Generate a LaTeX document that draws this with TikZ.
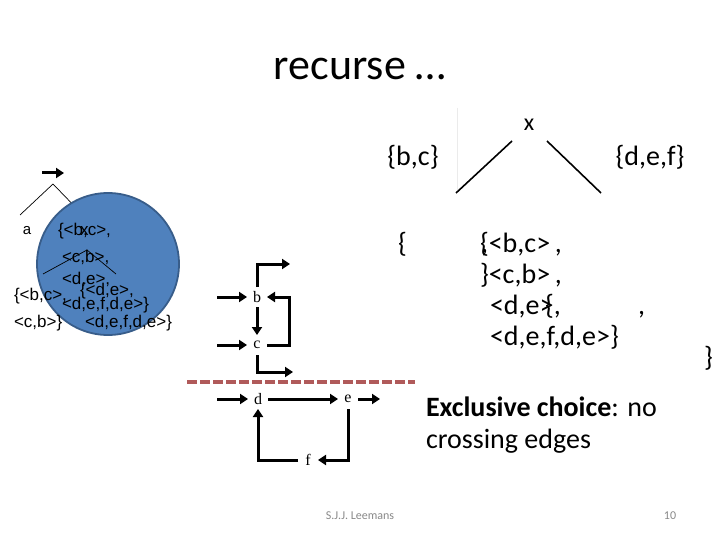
\documentclass[tikz,border=0pt]{standalone}
\usepackage{fontspec}
\setmainfont{Carlito}
\newfontfamily\arialf{Liberation Sans}
\newfontfamily\timesf{Liberation Serif}
\usetikzlibrary{arrows.meta}
\definecolor{circfill}{HTML}{4F81BD}
\definecolor{circline}{HTML}{385D8A}
\definecolor{dashred}{HTML}{B05A5A}
\definecolor{foot}{HTML}{898989}
\begin{document}
\begin{tikzpicture}[x=1pt,y=-1pt,
  every node/.style={inner sep=0pt, outer sep=0pt},
  big/.style={font=\fontsize{28pt}{30pt}\selectfont, anchor=base west},
  smalltxt/.style={font=\arialf\fontsize{17pt}{17pt}\selectfont, anchor=base west},
  gnode/.style={font=\timesf\fontsize{16pt}{16pt}\selectfont, minimum width=20pt, minimum height=20pt},
  arr/.style={line width=3pt, -{Triangle[length=8pt,width=10pt]}},
  treeline/.style={line width=1.6pt},
  thinline/.style={line width=0.7pt}
]
\fill[white] (0,0) rectangle (720,540);
\useasboundingbox (0,0) rectangle (720,540);

% title
\node[font=\fontsize{44pt}{48pt}\selectfont, anchor=base] (title) at (360,80) {recurse …};

% main tree
\node[font=\fontsize{24pt}{26pt}\selectfont, anchor=base] (x) at (529,131) {x};
\draw[black!8, line width=1pt] (457,108) -- (457,192);
\coordinate (t1a) at (512,141); \coordinate (t1b) at (456,193);
\coordinate (t2a) at (547,141); \coordinate (t2b) at (601,193);
\draw[treeline] (t1a) -- (t1b);
\draw[treeline] (t2a) -- (t2b);
\node[big, anchor=base] (bc) at (413,166) {\{b,c\}};
\node[big, anchor=base] (def) at (650,166) {\{d,e,f\}};

% log text block
\node[big] (lone) at (398,252) {\{};
\node[big] (r1) at (480,252) {\{<b,c>\,,};
\node[big] (r1c) at (481,252) {,};
\node[big] (r2) at (480,283) {\}<c,b>\,,};
\node[big] (r3) at (490,314) {<d,e>};
\node[big] (r3b) at (545,314) {\{,};
\node[big] (r3c) at (638,314) {,};
\node[big] (r4) at (490,345) {<d,e,f,d,e>\}};
\node[big] (rb) at (704,366) {\}};

% small tree, top-left
\coordinate (sa1) at (42,173); \coordinate (sa2) at (64,173);
\draw[arr] (sa1) -- (sa2);
\coordinate (ap) at (53,184); \coordinate (apl) at (20,215); \coordinate (apr) at (83,215);
\draw[thinline] (apl) -- (ap) -- (apr);
\node[font=\arialf\fontsize{15pt}{15pt}\selectfont, anchor=base] (a) at (27,234) {a};

% blue circle
\filldraw[fill=circfill, draw=circline, line width=1.8pt] (108,264) circle[radius=71pt];

% overlapping miniature texts
\node[smalltxt] (m1) at (58,236) {\{<b,c>,};
\node[smalltxt] (mx) at (80,236) {x};
\coordinate (map) at (87,250); \coordinate (mal) at (43,274); \coordinate (mar) at (116,274);
\draw[thinline] (mal) -- (map) -- (mar);
\node[smalltxt] (m2) at (62,262) {<c,b>,};
\node[smalltxt] (m3) at (62,284) {<d,e>,};
\node[smalltxt] (m4) at (14,300) {\{<b,c>,};
\node[smalltxt] (m5) at (80,295) {\{<d,e>,};
\node[smalltxt] (m6) at (62,309) {<d,e,f,d,e>\}};
\node[smalltxt] (m7) at (14,327) {<c,b>\}};
\node[smalltxt] (m8) at (85,327) {<d,e,f,d,e>\}};

% graph
\node[gnode] (b) at (257,297) {b};
\node[gnode] (c) at (257,345) {c};
\node[gnode] (d) at (258,399) {d};
\node[gnode] (e) at (348,399) {e};
\node[gnode] (f) at (308,460) {f};
\coordinate (bin) at (217,297);
\coordinate (cin) at (217,345);
\coordinate (din) at (217,399);
\coordinate (bout) at (290,264);
\coordinate (cout) at (293,372);
\coordinate (eout) at (380,399);
\coordinate (cbk) at (289,320);
\draw[arr] (bin) -- (b.west);
\draw[arr] (cin) -- (c.west);
\draw[arr] (din) -- (d.west);
\draw[arr] (b.north) |- (bout);
\draw[arr] (b.south) -- (c.north);
\draw[arr] (c.east) -| (cbk) |- (b.east);
\draw[arr] (c.south) |- (cout);
\draw[arr] (d.east) -- (e.west);
\draw[arr] (e.east) -- (eout);
\draw[arr] (e.south) |- (f.east);
\draw[arr] (f.west) -| (d.south);

% dashed separator
\coordinate (dl) at (187,382); \coordinate (dr) at (415,382);
\draw[dashred, line width=3.5pt, dash pattern=on 10pt off 3pt] (dl) -- (dr);

% caption
\node[big] (cap1) at (426,416) {\textbf{Exclusive choice}: no};
\node[big] (cap2) at (426,448) {crossing edges};

% footer
\node[font=\fontsize{12pt}{12pt}\selectfont, text=foot, anchor=base] (auth) at (360,519) {S.J.J. Leemans};
\node[font=\fontsize{12pt}{12pt}\selectfont, text=foot, anchor=base] (pg) at (670,519) {10};
\end{tikzpicture}
\end{document}
